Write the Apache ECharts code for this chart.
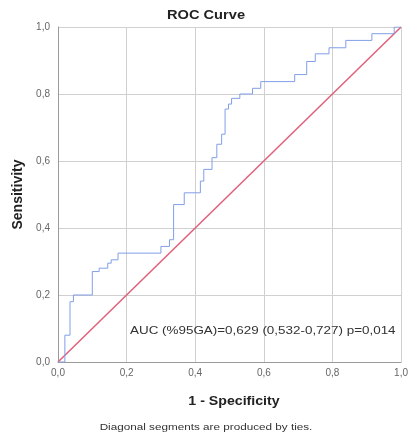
<!DOCTYPE html>
<html>
<head>
<meta charset="utf-8">
<script src="https://cdn.jsdelivr.net/npm/echarts@6/dist/echarts.min.js"></script>
<style>
html,body{margin:0;padding:0;background:#fff;}
#c{width:411px;height:440px;}
</style>
</head>
<body>
<div id="c"></div>
<script>
// ROC step curve points: [1 - specificity, sensitivity]
var rocFpr = [0, 0.02, 0.035, 0.045, 0.10, 0.12, 0.145, 0.155, 0.175, 0.30, 0.325, 0.337, 0.368, 0.415, 0.425, 0.449, 0.463, 0.477, 0.487, 0.497, 0.506, 0.53, 0.567, 0.591, 0.69, 0.725, 0.75, 0.79, 0.839, 0.915, 0.98, 1.0];
var rocTpr = [0, 0.08, 0.18, 0.20, 0.27, 0.28, 0.295, 0.305, 0.325, 0.345, 0.365, 0.47, 0.505, 0.54, 0.575, 0.61, 0.65, 0.68, 0.755, 0.77, 0.787, 0.80, 0.817, 0.837, 0.858, 0.897, 0.92, 0.938, 0.96, 0.98, 1.0, 1.0];
var refX = [0, 1];
var refY = [0, 1];
var tickValues = [0, 0.2, 0.4, 0.6, 0.8, 1.0];
var titleText = 'ROC Curve';
var xTitle = '1 - Specificity';
var yTitle = 'Sensitivity';
var aucText = 'AUC (%95GA)=0,629 (0,532-0,727) p=0,014';
var footText = 'Diagonal segments are produced by ties.';

var rocData = rocFpr.map(function (x, i) { return [x, rocTpr[i]]; });
var refData = refX.map(function (x, i) { return [x, refY[i]]; });
function fmt(v) { return v.toFixed(1).replace('.', ','); }

var chart = echarts.init(document.getElementById('c'), null, {renderer: 'canvas'});
var font = 'Liberation Sans, Arial, sans-serif';
function txt(t, x, y, size, bold, sx, align, color) {
  return {
    type: 'text', x: x, y: y, scaleX: sx, z: 10,
    style: {
      text: t, fontSize: size, fontWeight: bold ? 'bold' : 'normal',
      fontFamily: font, fill: color || '#222',
      align: align, verticalAlign: 'middle',
      textAlign: align, textVerticalAlign: 'middle'
    }
  };
}
chart.setOption({
  animation: false,
  backgroundColor: '#fff',
  textStyle: {fontFamily: font},
  grid: {left: 58, right: 3, top: 27, bottom: 78, containLabel: false},
  xAxis: {
    type: 'value', min: 0, max: 1, interval: 0.2,
    axisLine: {show: true, lineStyle: {color: '#9a9a9a', width: 1}},
    axisTick: {show: false},
    axisLabel: {formatter: fmt, fontSize: 10, color: '#666', margin: 6},
    splitLine: {show: true, lineStyle: {color: '#d0d0d0', width: 1}}
  },
  yAxis: {
    type: 'value', min: 0, max: 1, interval: 0.2,
    name: yTitle, nameLocation: 'middle', nameGap: 32, nameRotate: 90,
    nameTextStyle: {fontSize: 14, fontWeight: 'bold', color: '#222'},
    axisLine: {show: true, lineStyle: {color: '#9a9a9a', width: 1}},
    axisTick: {show: false},
    axisLabel: {formatter: fmt, fontSize: 10, color: '#666', margin: 8},
    splitLine: {show: true, lineStyle: {color: '#d0d0d0', width: 1}}
  },
  series: [
    {
      type: 'line', data: refData, symbol: 'none',
      lineStyle: {color: '#e0607a', width: 1.5}, z: 2
    },
    {
      type: 'line', data: rocData, symbol: 'none', step: 'end',
      lineStyle: {color: '#819fe6', width: 1}, z: 3
    }
  ],
  graphic: [
    txt(titleText, 206, 16, 12, true, 1.22, 'center', '#222'),
    txt(xTitle, 234, 402, 12, true, 1.18, 'center', '#222'),
    txt(aucText, 130, 331, 11, false, 1.22, 'left', '#333'),
    txt(footText, 206, 428, 9, false, 1.3, 'center', '#333')
  ]
});
</script>
</body>
</html>
